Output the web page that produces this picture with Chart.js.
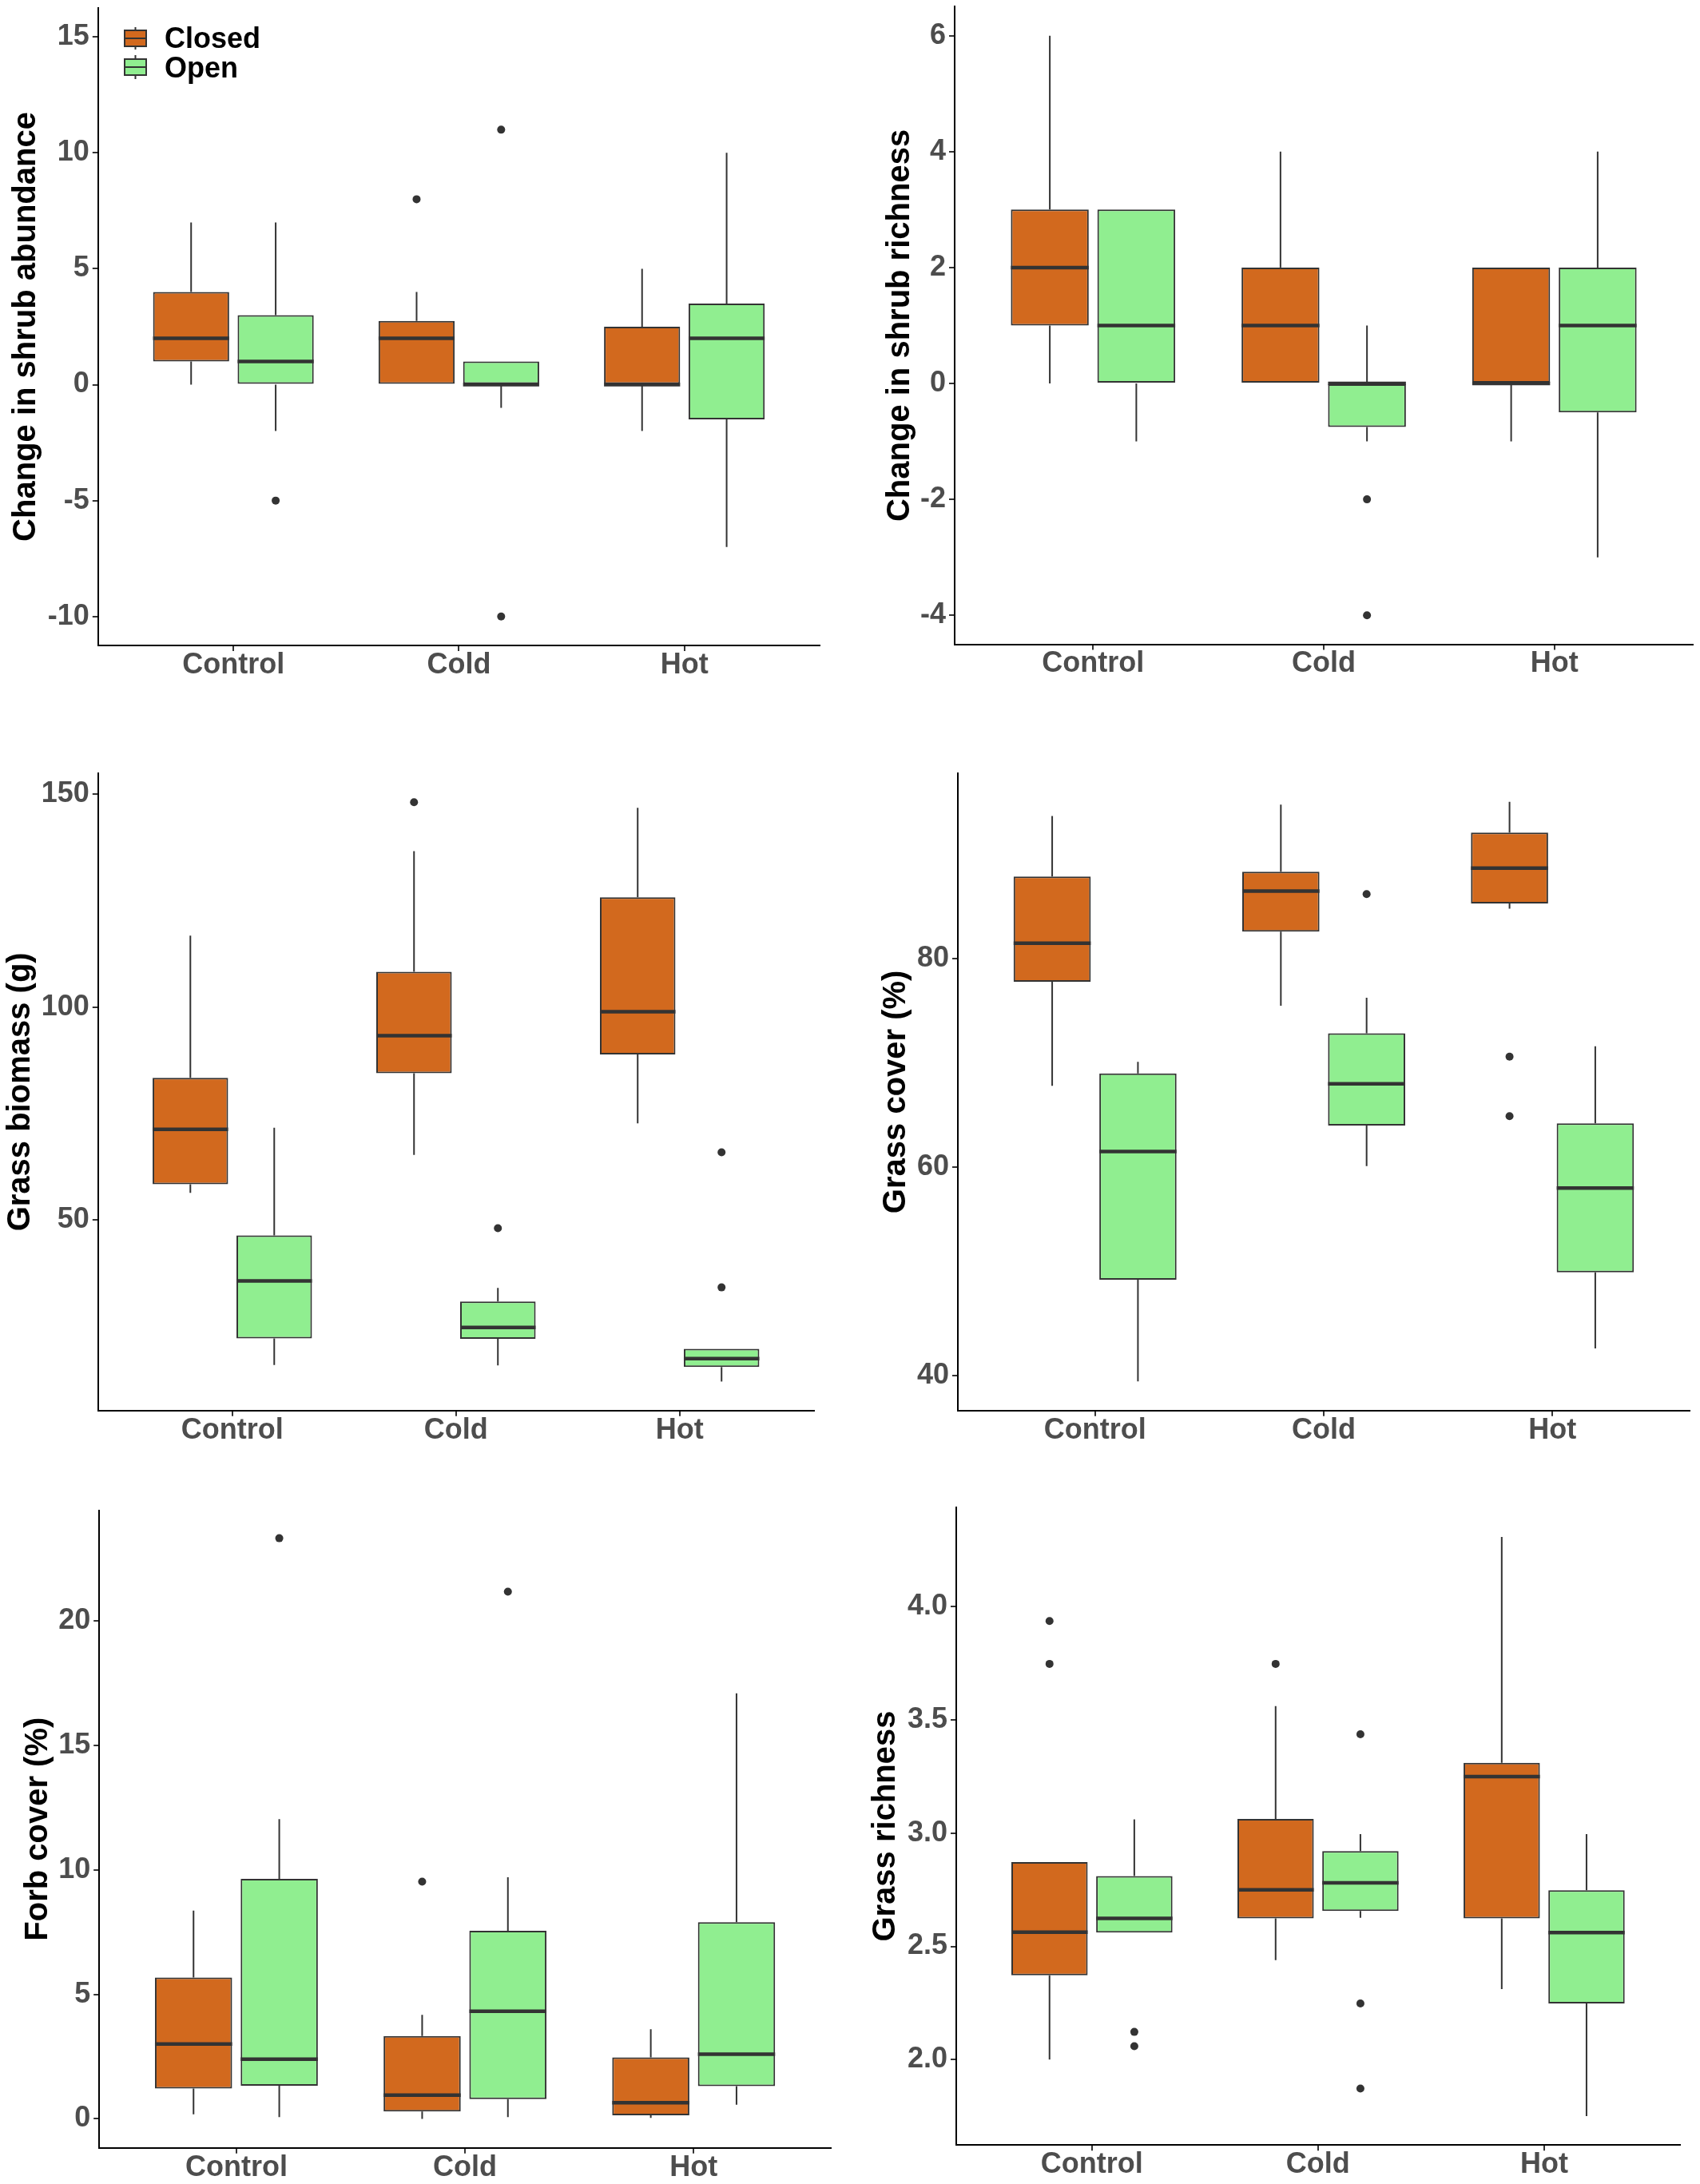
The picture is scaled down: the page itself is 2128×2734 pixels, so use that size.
<!DOCTYPE html>
<html>
<head>
<meta charset="utf-8">
<script src="https://cdn.jsdelivr.net/npm/chart.js@4.4.1/dist/chart.umd.min.js"></script>
<style>
  html, body { margin: 0; padding: 0; background: #ffffff; }
  #wrap { position: relative; width: 2128px; height: 2734px; overflow: hidden; background: #ffffff; }
  #wrap canvas { position: absolute; }
</style>
</head>
<body>
<div id="wrap"></div>
<script>
// ---------------- DATA ----------------
const categories = ['Control', 'Cold', 'Hot'];
const groups = ['Closed', 'Open'];
const groupColors = ['#D2691E', '#90EE90'];

// Five-number summaries per category (Control, Cold, Hot):
// [lower whisker, Q1, median, Q3, upper whisker]
const shrubAbundanceClosed = [[0, 1, 2, 4, 7], [0, 0, 2, 2.75, 4], [-2, 0, 0, 2.5, 5]];
const shrubAbundanceOpen   = [[-2, 0, 1, 3, 7], [-1, 0, 0, 1, 1], [-7, -1.5, 2, 3.5, 10]];
const shrubAbundanceClosedOut = [[], [8], []];
const shrubAbundanceOpenOut   = [[-5], [11, -10], []];
const shrubAbundanceTicks = [-10, -5, 0, 5, 10, 15];

const shrubRichnessClosed = [[0, 1, 2, 3, 6], [0, 0, 1, 2, 4], [-1, 0, 0, 2, 2]];
const shrubRichnessOpen   = [[-1, 0, 1, 3, 3], [-1, -0.75, 0, 0, 1], [-3, -0.5, 1, 2, 4]];
const shrubRichnessClosedOut = [[], [], []];
const shrubRichnessOpenOut   = [[], [-2, -4], []];
const shrubRichnessTicks = [-4, -2, 0, 2, 4, 6];

const grassBiomassClosed = [[56.4, 58.4, 71.3, 83.4, 116.8], [65.3, 84.5, 93.3, 108.3, 136.6], [72.7, 88.9, 98.9, 125.8, 146.8]];
const grassBiomassOpen   = [[16.0, 22.2, 35.7, 46.4, 71.7], [15.9, 22.1, 24.8, 30.9, 34.1], [12.1, 15.5, 17.5, 19.8, 19.8]];
const grassBiomassClosedOut = [[], [148.1], []];
const grassBiomassOpenOut   = [[], [48.1], [65.9, 34.2]];
const grassBiomassTicks = [50, 100, 150];

const grassCoverClosed = [[67.8, 77.8, 81.5, 87.9, 93.7], [75.5, 82.6, 86.5, 88.35, 94.8], [84.8, 85.3, 88.7, 92.1, 95.05]];
const grassCoverOpen   = [[39.45, 49.2, 61.5, 69.0, 70.1], [60.1, 64.0, 68.0, 72.85, 76.25], [42.6, 49.9, 58.0, 64.2, 71.6]];
const grassCoverClosedOut = [[], [], [70.6, 64.9]];
const grassCoverOpenOut   = [[], [86.2], []];
const grassCoverTicks = [40, 60, 80];

const forbCoverClosed = [[0.18, 1.22, 3.01, 5.68, 8.37], [0, 0.29, 0.95, 3.33, 4.18], [0.04, 0.14, 0.65, 2.47, 3.6]];
const forbCoverOpen   = [[0.07, 1.33, 2.4, 9.64, 12.04], [0.07, 0.79, 4.32, 7.56, 9.71], [0.57, 1.31, 2.6, 7.9, 17.1]];
const forbCoverClosedOut = [[], [9.53], []];
const forbCoverOpenOut   = [[23.33], [21.18], []];
const forbCoverTicks = [0, 5, 10, 15, 20];

const grassRichnessClosed = [[2.0, 2.372, 2.563, 2.872, 2.872], [2.439, 2.624, 2.75, 3.063, 3.561], [2.311, 2.624, 3.25, 3.311, 4.309]];
const grassRichnessOpen   = [[2.561, 2.561, 2.624, 2.811, 3.061], [2.626, 2.656, 2.781, 2.921, 2.996], [1.75, 2.248, 2.561, 2.748, 2.996]];
const grassRichnessClosedOut = [[3.937, 3.748], [3.748], []];
const grassRichnessOpenOut   = [[2.122, 2.059], [3.437, 2.248, 1.872], []];
const grassRichnessTicks = [2.0, 2.5, 3.0, 3.5, 4.0];

// ---------------- PANELS (layout only) ----------------
const FONT = "'Liberation Sans', Arial, Helvetica, sans-serif";
const panels = [
  { title: 'Change in shrub abundance', stats: [shrubAbundanceClosed, shrubAbundanceOpen], out: [shrubAbundanceClosedOut, shrubAbundanceOpenOut],
    ticks: shrubAbundanceTicks, yMin: -11.25, yMax: 16.25, dec: 0, legend: true,
    box: { left: 0, top: 0, w: 1064, h: 870, pl: 122.8, pr: 1026, pt: 10, pb: 808, tp: 9 } },
  { title: 'Change in shrub richness', stats: [shrubRichnessClosed, shrubRichnessOpen], out: [shrubRichnessClosedOut, shrubRichnessOpenOut],
    ticks: shrubRichnessTicks, yMin: -4.5, yMax: 6.5, dec: 0, legend: false,
    box: { left: 1064, top: 0, w: 1064, h: 870, pl: 131, pr: 1055, pt: 8.4, pb: 806.5, tp: 39 } },
  { title: 'Grass biomass (g)', stats: [grassBiomassClosed, grassBiomassOpen], out: [grassBiomassClosedOut, grassBiomassOpenOut],
    ticks: grassBiomassTicks, yMin: 5.3, yMax: 154.9, dec: 0, legend: false,
    box: { left: 0, top: 930, w: 1064, h: 900, pl: 122.8, pr: 1018.7, pt: 38, pb: 835.7, tp: 2 } },
  { title: 'Grass cover (%)', stats: [grassCoverClosed, grassCoverOpen], out: [grassCoverClosedOut, grassCoverOpenOut],
    ticks: grassCoverTicks, yMin: 36.65, yMax: 97.8, dec: 0, legend: false,
    box: { left: 1064, top: 930, w: 1064, h: 900, pl: 135, pr: 1051, pt: 38, pb: 835.7, tp: 34 } },
  { title: 'Forb cover (%)', stats: [forbCoverClosed, forbCoverOpen], out: [forbCoverClosedOut, forbCoverOpenOut],
    ticks: forbCoverTicks, yMin: -1.165, yMax: 24.45, dec: 0, legend: false,
    box: { left: 0, top: 1860, w: 1064, h: 874, pl: 124.2, pr: 1040, pt: 30.7, pb: 828.7, tp: 24 } },
  { title: 'Grass richness', stats: [grassRichnessClosed, grassRichnessOpen], out: [grassRichnessClosedOut, grassRichnessOpenOut],
    ticks: grassRichnessTicks, yMin: 1.622, yMax: 4.44, dec: 1, legend: false,
    box: { left: 1064, top: 1860, w: 1064, h: 874, pl: 133, pr: 1038.7, pt: 26.8, pb: 825.3, tp: 21 } }
];

// ---------------- PLUGINS ----------------
const INK = '#333333';
const boxExtras = {
  id: 'boxExtras',
  afterDatasetsDraw(chart) {
    const ctx = chart.ctx;
    const ys = chart.scales.y;
    chart.data.datasets.forEach((ds, di) => {
      const meta = chart.getDatasetMeta(di);
      meta.data.forEach((bar, i) => {
        const s = ds.stats[i];
        const x = bar.x;
        const w = bar.width;
        ctx.save();
        ctx.strokeStyle = INK;
        ctx.lineWidth = 2;
        ctx.beginPath();
        if (s[4] > s[3]) { ctx.moveTo(x, ys.getPixelForValue(s[3])); ctx.lineTo(x, ys.getPixelForValue(s[4])); }
        if (s[0] < s[1]) { ctx.moveTo(x, ys.getPixelForValue(s[1])); ctx.lineTo(x, ys.getPixelForValue(s[0])); }
        ctx.stroke();
        const ym = ys.getPixelForValue(s[2]);
        ctx.lineWidth = 4.5;
        ctx.beginPath();
        ctx.moveTo(x - w / 2, ym);
        ctx.lineTo(x + w / 2, ym);
        ctx.stroke();
        ctx.fillStyle = INK;
        (ds.outliers[i] || []).forEach(v => {
          ctx.beginPath();
          ctx.arc(x, ys.getPixelForValue(v), 5, 0, Math.PI * 2);
          ctx.fill();
        });
        ctx.restore();
      });
    });
  }
};

const boxLegend = {
  id: 'boxLegend',
  afterDraw(chart, args, opts) {
    if (!opts.show) return;
    const ctx = chart.ctx;
    const cx = 169.5, half = 13.5;
    const rows = [{ top: 34, b0: 38, b1: 58, bot: 62, ty: 50 }, { top: 69, b0: 74, b1: 94, bot: 99, ty: 87 }];
    ctx.save();
    groups.forEach((g, gi) => {
      const r = rows[gi];
      ctx.strokeStyle = INK;
      ctx.lineWidth = 2;
      ctx.beginPath();
      ctx.moveTo(cx, r.top); ctx.lineTo(cx, r.b0);
      ctx.moveTo(cx, r.b1); ctx.lineTo(cx, r.bot);
      ctx.stroke();
      ctx.fillStyle = groupColors[gi];
      ctx.fillRect(cx - half, r.b0, half * 2, r.b1 - r.b0);
      ctx.strokeRect(cx - half, r.b0, half * 2, r.b1 - r.b0);
      ctx.beginPath();
      ctx.moveTo(cx - half, (r.b0 + r.b1) / 2); ctx.lineTo(cx + half, (r.b0 + r.b1) / 2);
      ctx.stroke();
      ctx.fillStyle = '#000000';
      ctx.font = "bold 36px " + FONT;
      ctx.textBaseline = 'middle';
      ctx.textAlign = 'left';
      ctx.fillText(g, 206, r.ty);
    });
    ctx.restore();
  }
};

// ---------------- BUILD ----------------
function build(p) {
  const b = p.box;
  const c = document.createElement('canvas');
  c.width = b.w; c.height = b.h;
  c.style.left = b.left + 'px'; c.style.top = b.top + 'px';
  c.style.width = b.w + 'px'; c.style.height = b.h + 'px';
  document.getElementById('wrap').appendChild(c);
  const tickFont = { family: FONT, size: 36, weight: 'bold', lineHeight: 1 };
  new Chart(c, {
    type: 'bar',
    data: {
      datasets: groups.map((g, gi) => ({
        label: g,
        data: categories.map((cat, ci) => ({ x: ci + 1, y: [p.stats[gi][ci][1], p.stats[gi][ci][3]] })),
        stats: p.stats[gi],
        outliers: p.out[gi],
        backgroundColor: groupColors[gi],
        borderColor: INK,
        borderWidth: 2,
        borderSkipped: false,
        inflateAmount: 0,
        categoryPercentage: 0.75,
        barPercentage: 0.9
      }))
    },
    options: {
      responsive: false,
      animation: false,
      devicePixelRatio: 1,
      layout: { padding: { left: 0, top: b.pt, right: b.w - b.pr, bottom: 0 } },
      plugins: {
        legend: { display: false },
        tooltip: { enabled: false },
        boxLegend: { show: p.legend }
      },
      scales: {
        x: {
          type: 'linear',
          min: 0.4, max: 3.6,
          offset: false,
          afterBuildTicks: s => { s.ticks = categories.map((c, i) => ({ value: i + 1 })); },
          afterFit: s => { s.height = b.h - b.pb; s.paddingLeft = 0; s.paddingRight = 0; },
          ticks: {
            autoSkip: false, maxRotation: 0, minRotation: 0,
            callback: v => categories[Math.round(v) - 1],
            font: tickFont, color: '#4D4D4D', padding: 0
          },
          grid: { display: true, offset: false, drawOnChartArea: false, drawTicks: true, tickLength: 7, color: INK, lineWidth: 2 },
          border: { display: true, color: '#000000', width: 2 }
        },
        y: {
          type: 'linear',
          min: p.yMin, max: p.yMax,
          beginAtZero: false,
          afterBuildTicks: s => { s.ticks = p.ticks.map(v => ({ value: v })); },
          afterFit: s => { s.width = b.pl; s.paddingTop = 0; s.paddingBottom = 0; },
          ticks: {
            autoSkip: false,
            callback: v => v.toFixed(p.dec),
            font: tickFont, color: '#4D4D4D', padding: 4
          },
          grid: { display: true, drawOnChartArea: false, drawTicks: true, tickLength: 7, color: INK, lineWidth: 2 },
          border: { display: true, color: '#000000', width: 2 },
          title: {
            display: true, text: p.title, color: '#000000',
            font: { family: FONT, size: 40, weight: 'bold', lineHeight: 1.2 },
            padding: { top: b.tp, bottom: 0 }
          }
        }
      }
    },
    plugins: [boxExtras, boxLegend]
  });
}

panels.forEach(build);
</script>
</body>
</html>
